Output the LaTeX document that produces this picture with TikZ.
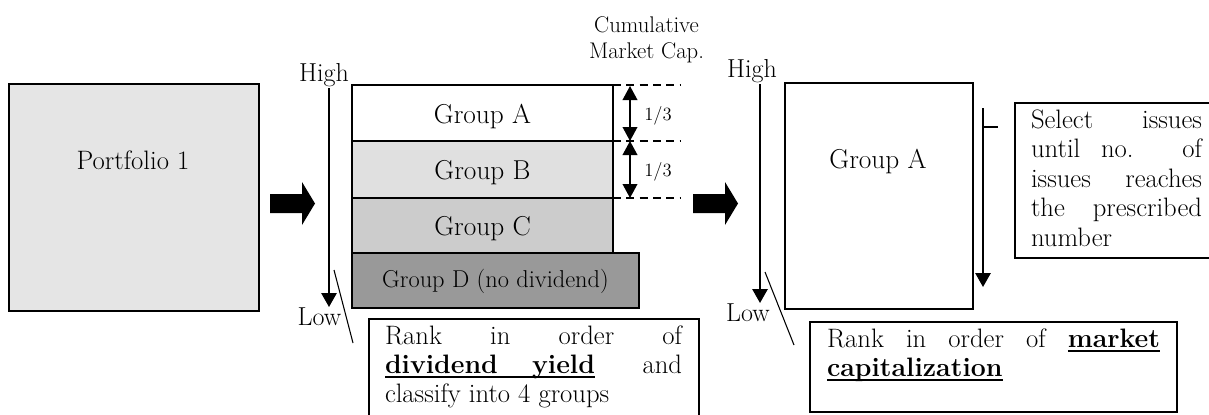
\documentclass[tikz,border=0pt]{standalone}
\usepackage{fontspec}
\usetikzlibrary{arrows.meta,fit}
\definecolor{pfgray}{gray}{0.9}
\definecolor{grB}{gray}{0.88}
\definecolor{grC}{gray}{0.8}
\definecolor{grD}{gray}{0.6}
\newsavebox\ulbox
\newcommand\myul[1]{\sbox\ulbox{#1}\rlap{\rule[-3.4pt]{\wd\ulbox}{1.3pt}}\usebox\ulbox}
\newcommand\setfs[1]{\fontsize{#1}{#1}\selectfont}
\begin{document}
\begin{tikzpicture}[x=0.75pt,y=-0.75pt,
  box/.style={draw, line width=1.3pt, inner sep=0pt, outer sep=0pt},
  lbl/.style={inner sep=0pt, outer sep=0pt, font=\setfs{20}},
  small/.style={inner sep=0pt, outer sep=0pt, font=\setfs{17}},
  varrow/.style={line width=1.4pt, -{Triangle[width=11.5pt,length=10.5pt]}},
  darrow/.style={line width=1.2pt, {Triangle[width=11pt,length=10.5pt]}-{Triangle[width=11pt,length=10.5pt]}},
  dashline/.style={line width=1.1pt, dash pattern=on 6pt off 4pt},
  slash/.style={line width=0.8pt},
  blockarrow/.style={fill=black}]
\useasboundingbox (0,0) rectangle (1209,414);
\clip (0,0) rectangle (1209,414);

% Portfolio 1
\node[box, fill=pfgray, fit={(9,84)(259,311)}] (port) {};
\node[lbl, anchor=base] (portT) at (133,169) {Portfolio 1};

% block arrow 1
\fill[blockarrow] (270,194) -- (302,194) -- (302,182) -- (315,203.5) -- (302,225) -- (302,213) -- (270,213) -- cycle;

% left axis
\node[lbl, font=\setfs{19.5}, anchor=base] (hiL) at (324,81) {High};
\node[lbl, font=\setfs{19.5}, anchor=base] (loL) at (319.5,325) {Low};
\coordinate (hiA) at (329,88);
\coordinate (loA) at (329,307);
\draw[varrow] (hiA) -- (loA);
\coordinate (s1a) at (334,270);
\coordinate (s1b) at (353,343);
\draw[slash] (s1a) -- (s1b);

% groups
\node[box, fill=grD, fit={(352,253)(639,308)}] (gD) {};
\node[box, fill=grC, fit={(352,198)(613,253)}] (gC) {};
\node[box, fill=grB, fit={(352,141)(613,198)}] (gB) {};
\node[box, fill=white, fit={(352,85)(613,141)}] (gA) {};
\node[lbl, font=\setfs{20.5}, anchor=base] (gAT) at (482.5,123) {Group A};
\node[lbl, font=\setfs{20.5}, anchor=base] (gBT) at (482.5,179.5) {Group B};
\node[lbl, font=\setfs{20.5}, anchor=base] (gCT) at (482.5,235.5) {Group C};
\node[lbl, font=\setfs{18.3}, anchor=base] (gDT) at (495.5,287) {Group D (no dividend)};

% cumulative market cap
\node[small, anchor=base] (cum1) at (646.5,32) {Cumulative};
\node[small, anchor=base] (cum2) at (646.5,58) {Market Cap.};
\coordinate (d1) at (680,85);
\coordinate (d2) at (680,141);
\coordinate (d3) at (680,198);
\draw[dashline] (gA.north east) -- (d1);
\draw[dashline] (gB.north east) -- (d2);
\draw[dashline] (gB.south east) -- (d3);
\coordinate (m1) at (630,86);
\coordinate (m2) at (630,141);
\coordinate (m3) at (630,198);
\draw[darrow] (m1) -- (m2);
\draw[darrow] (m2) -- (m3);
\node[lbl, font=\setfs{14}, anchor=base] (t1) at (658,120) {1/3};
\node[lbl, font=\setfs{14}, anchor=base] (t2) at (658,176) {1/3};

% text box 1
\node[box, fill=white, fit={(369,319)(699,425)}] (rank1) {};
\node[lbl, anchor=base west] (r1l1) at (385,344) {\makebox[222.75pt][s]{Rank in order of}};
\node[lbl, anchor=base west] (r1l2) at (385,373) {\makebox[222.75pt][s]{\myul{\makebox[157.5pt][s]{\textbf{dividend} \textbf{yield}}} and}};
\node[lbl, anchor=base west] (r1l3) at (385,402) {classify into 4 groups};

% block arrow 2
\fill[blockarrow] (693,194) -- (725,194) -- (725,182) -- (738,203.5) -- (725,225) -- (725,213) -- (693,213) -- cycle;

% right axis
\node[lbl, font=\setfs{19.5}, anchor=base] (hiR) at (752,77) {High};
\node[lbl, font=\setfs{19.5}, anchor=base] (loR) at (748,321) {Low};
\coordinate (hiB) at (760,84);
\coordinate (loB) at (760,303);
\draw[varrow] (hiB) -- (loB);
\coordinate (s2a) at (765,272);
\coordinate (s2b) at (794,345);
\draw[slash] (s2a) -- (s2b);

% right group A
\node[box, fill=white, fit={(785,83)(973,309)}] (rA) {};
\node[lbl, font=\setfs{20.5}, anchor=base] (rAT) at (878,168) {Group A};

% selection arrow
\coordinate (selTop) at (983,108);
\coordinate (selBot) at (983,287);
\draw[varrow] (selTop) -- (selBot);
\coordinate (tick) at (998,127);
\draw[line width=1.2pt] (983,127) -- (tick);

% select box
\node[box, fill=white, fit={(1015,103)(1215,258)}] (sel) {};
\node[lbl, anchor=base west] (sl1) at (1031,128) {\makebox[128.25pt][s]{Select issues}};
\node[lbl, anchor=base west] (sl2) at (1031,157.5) {\makebox[128.25pt][s]{until no. of}};
\node[lbl, anchor=base west] (sl3) at (1031,187) {\makebox[128.25pt][s]{issues reaches}};
\node[lbl, anchor=base west] (sl4) at (1031,216.5) {\makebox[128.25pt][s]{the prescribed}};
\node[lbl, anchor=base west] (sl5) at (1031,246) {number};

% market cap box
\node[box, fill=white, fit={(810,322)(1177,412)}] (mk) {};
\node[lbl, anchor=base west] (mk1) at (827,347) {\makebox[249.75pt][s]{Rank in order of \myul{\textbf{market}}}};
\node[lbl, anchor=base west] (mk2) at (827,376) {\myul{\textbf{capitalization}}};
\end{tikzpicture}
\end{document}
